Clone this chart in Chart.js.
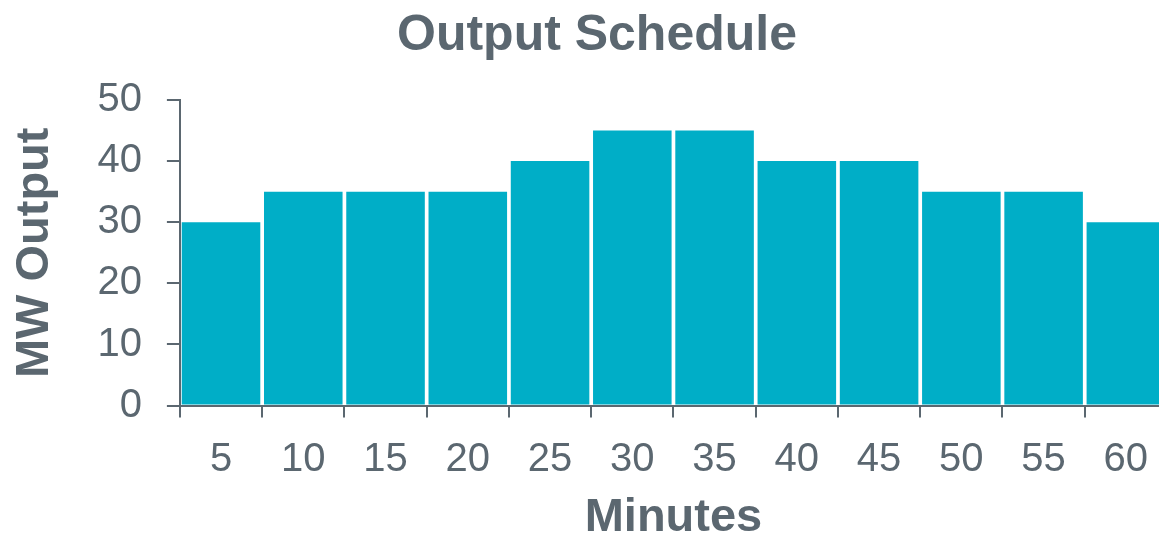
<!DOCTYPE html>
<html>
<head>
<meta charset="utf-8">
<script src="https://cdn.jsdelivr.net/npm/chart.js@4.4.1/dist/chart.umd.min.js"></script>
<style>
  html, body { margin: 0; padding: 0; background: #ffffff; overflow: hidden; }
  #wrap { width: 1194px; height: 535px; }
</style>
</head>
<body>
<div id="wrap"><canvas id="c" width="1194" height="535"></canvas></div>
<script>
// Output per 5-minute interval
const minutes = ['5', '10', '15', '20', '25', '30', '35', '40', '45', '50', '55', '60'];
const mwOutput = [30, 35, 35, 35, 40, 45, 45, 40, 40, 35, 35, 30];
const yTicks = [0, 10, 20, 30, 40, 50];

const INK = '#5b6770';
const BAR = '#00aec7';
const FONT = '"Liberation Sans", Arial, sans-serif';

new Chart(document.getElementById('c'), {
  type: 'bar',
  data: {
    labels: minutes,
    datasets: [{
      data: mwOutput,
      backgroundColor: BAR,
      borderWidth: 0,
      barPercentage: 1.0,
      categoryPercentage: 0.955
    }]
  },
  options: {
    responsive: false,
    animation: false,
    devicePixelRatio: 1,
    layout: { padding: { left: 27, right: 27, top: 0, bottom: 0 } },
    plugins: {
      legend: { display: false },
      tooltip: { enabled: false },
      title: {
        display: true,
        text: 'Output Schedule',
        color: INK,
        font: { family: FONT, size: 50, weight: 'bold' },
        padding: { top: 6, bottom: 34 }
      }
    },
    scales: {
      x: {
        grid: {
          display: true,
          offset: true,
          drawOnChartArea: false,
          drawTicks: true,
          tickLength: 12,
          color: INK,
          lineWidth: 2
        },
        border: { display: true, color: INK, width: 2 },
        ticks: {
          color: INK,
          font: { family: FONT, size: 40 },
          padding: 18,
          maxRotation: 0,
          autoSkip: false
        },
        title: {
          display: true,
          text: 'Minutes',
          color: INK,
          font: { family: FONT, size: 47, weight: 'bold' },
          padding: { top: -12, bottom: -11 }
        }
      },
      y: {
        min: 0,
        max: 50,
        afterBuildTicks: (scale) => { scale.ticks = yTicks.map(v => ({ value: v })); },
        grid: {
          display: true,
          drawOnChartArea: false,
          drawTicks: true,
          tickLength: 13,
          color: INK,
          lineWidth: 2
        },
        border: { display: true, color: INK, width: 2 },
        ticks: {
          color: INK,
          font: { family: FONT, size: 40 },
          padding: 25
        },
        title: {
          display: true,
          text: 'MW Output',
          color: INK,
          font: { family: FONT, size: 47, weight: 'bold' },
          padding: { top: -20, bottom: 9 }
        }
      }
    }
  }
});
</script>
</body>
</html>
